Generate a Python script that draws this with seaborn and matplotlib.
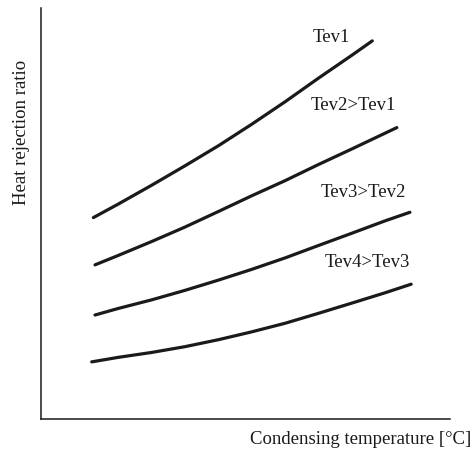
import matplotlib
matplotlib.use("Agg")
import matplotlib.pyplot as plt
import pandas as pd
import seaborn as sns

# schematic curves, values (arbitrary units 0..100)
x_tev1 = [12.8, 18.9, 27.1, 35.2, 43.4, 51.5, 59.7, 67.8, 76.0, 81.0]
y_tev1 = [49.0, 52.3, 56.9, 61.6, 66.5, 71.7, 77.2, 82.9, 88.5, 92.0]

x_tev2 = [13.2, 18.9, 27.1, 35.2, 43.4, 51.5, 59.7, 67.8, 76.0, 87.0]
y_tev2 = [37.5, 39.8, 43.2, 46.7, 50.5, 54.3, 58.0, 61.9, 65.7, 70.9]

x_tev3 = [13.2, 18.9, 27.1, 35.2, 43.4, 51.5, 59.7, 67.8, 76.0, 84.1, 90.2]
y_tev3 = [25.3, 26.9, 29.0, 31.3, 33.8, 36.4, 39.2, 42.2, 45.2, 48.2, 50.3]

x_tev4 = [12.4, 18.9, 27.1, 35.2, 43.4, 51.5, 59.7, 67.8, 76.0, 84.1, 90.5]
y_tev4 = [13.9, 15.0, 16.2, 17.6, 19.3, 21.2, 23.3, 25.7, 28.2, 30.7, 32.8]

labels = ["Tev1", "Tev2>Tev1", "Tev3>Tev2", "Tev4>Tev3"]
label_x = [71.1, 76.3, 78.7, 79.7]
label_y = [92.9, 76.2, 55.0, 38.0]

frames = []
for name, xs, ys in zip(labels, [x_tev1, x_tev2, x_tev3, x_tev4],
                        [y_tev1, y_tev2, y_tev3, y_tev4]):
    frames.append(pd.DataFrame({"x": xs, "y": ys, "curve": name}))
df = pd.concat(frames, ignore_index=True)

sns.set_style("white")
plt.rcParams["font.family"] = ["Liberation Serif", "DejaVu Serif"]

ink = "#1a1a1a"

fig = plt.figure(figsize=(4.75, 4.51), dpi=100)
ax = fig.add_axes([41 / 475, 1 - 419 / 451, 409 / 475, 411 / 451])

sns.lineplot(data=df, x="x", y="y", hue="curve", palette=[ink] * 4,
             linewidth=2.3, legend=False, sort=False, ax=ax)

for lab, lx, ly in zip(labels, label_x, label_y):
    ax.text(lx, ly, lab, ha="center", va="center", fontsize=13.5, color=ink)

ax.set_xlim(0, 100)
ax.set_ylim(0, 100)
ax.set_xticks([])
ax.set_yticks([])
sns.despine(ax=ax)
for s in ["left", "bottom"]:
    ax.spines[s].set_color(ink)
    ax.spines[s].set_linewidth(1.1)

ax.set_xlabel("Condensing temperature [°C]", fontsize=13.5, color=ink)
ax.set_ylabel("Heat rejection ratio", fontsize=13.5, color=ink)
ax.xaxis.set_label_coords(0.781, -0.03)
ax.yaxis.set_label_coords(-0.027, 0.698)

plt.savefig("out.png", dpi=100)
